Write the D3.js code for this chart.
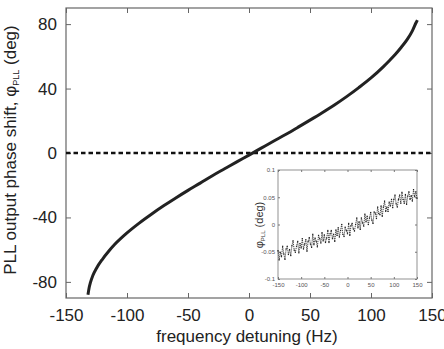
<!DOCTYPE html>
<html>
<head>
<meta charset="utf-8">
<script src="https://cdn.jsdelivr.net/npm/d3@7"></script>
<style>
  body { margin: 0; background: white; }
  svg { display: block; font-family: "Liberation Sans", Arial, sans-serif; }
</style>
</head>
<body>
<main></main>
<script>
// main curve: phase shift (deg) vs detuning (Hz)
const detuning = [-132, -131, -130, -128, -125, -120, -115, -110, -100, -90, -80, -70, -60, -50, -40, -30, -20, -10, 0,
    10, 20, 30, 40, 50, 60, 70, 80, 90, 100, 110, 115, 120, 125, 130, 134, 137, 138]
const phase = [-88, -83.5, -80.5, -76, -71.5, -65.8, -61, -56.7, -49.6, -43.5, -38, -32.8, -27.9, -23.2, -18.7, -14.1, -9.8, -5.5, -1.3,
    3, 7.3, 11.5, 15.9, 20.4, 25, 29.8, 35, 40.6, 46.6, 53.5, 57.3, 61.3, 65.8, 70.8, 76, 81, 82.5]

const xTicks = [-150, -100, -50, 0, 50, 100, 150]
const yTicks = [-80, -40, 0, 40, 80]

// inset: residual phase (deg)
const insetFreq = [-150, -147.5, -145, -142.5, -140, -137.5, -135, -132.5, -130, -127.5, -125, -122.5, -120, -117.5, -115, -112.5,
    -110, -107.5, -105, -102.5, -100, -97.5, -95, -92.5, -90, -87.5, -85, -82.5, -80, -77.5, -75, -72.5, -70, -67.5, -65, -62.5,
    -60, -57.5, -55, -52.5, -50, -47.5, -45, -42.5, -40, -37.5, -35, -32.5, -30, -27.5, -25, -22.5, -20, -17.5, -15, -12.5,
    -10, -7.5, -5, -2.5, 0, 2.5, 5, 7.5, 10, 12.5, 15, 17.5, 20, 22.5, 25, 27.5, 30, 32.5, 35, 37.5, 40, 42.5, 45, 47.5,
    50, 52.5, 55, 57.5, 60, 62.5, 65, 67.5, 70, 72.5, 75, 77.5, 80, 82.5, 85, 87.5, 90, 92.5, 95, 97.5, 100, 102.5, 105, 107.5,
    110, 112.5, 115, 117.5, 120, 122.5, 125, 127.5, 130, 132.5, 135, 137.5, 140, 142.5, 145, 147.5, 150]
const insetPhase = [-0.048, -0.065, -0.051, -0.059, -0.040, -0.054, -0.064, -0.045, -0.040, -0.055, -0.046, -0.057, -0.039, -0.030,
    -0.047, -0.051, -0.040, -0.031, -0.052, -0.035, -0.043, -0.026, -0.045, -0.036, -0.028, -0.049, -0.031, -0.024, -0.036, -0.042,
    -0.018, -0.037, -0.025, -0.031, -0.041, -0.020, -0.026, -0.034, -0.015, -0.030, -0.019, -0.033, -0.025, -0.011, -0.033, -0.017,
    -0.011, -0.026, -0.018, -0.031, -0.010, -0.020, -0.006, -0.023, -0.011, 0.000, -0.018, -0.022, -0.005, -0.011, -0.017, 0.002,
    -0.020, -0.002, 0.002, -0.008, -0.012, 0.000, 0.012, -0.006, 0.005, -0.009, 0.012, 0.003, -0.003, 0.019, 0.005, 0.015, 0.000,
    0.012, 0.022, 0.008, 0.002, 0.023, 0.021, 0.011, 0.032, 0.020, 0.018, 0.034, 0.015, 0.032, 0.043, 0.024, 0.032, 0.024, 0.041,
    0.034, 0.046, 0.031, 0.046, 0.054, 0.038, 0.032, 0.046, 0.054, 0.039, 0.059, 0.046, 0.039, 0.055, 0.037, 0.052, 0.060, 0.046,
    0.053, 0.043, 0.064, 0.051, 0.060, 0.048]
const insetYTicks = [-0.1, -0.05, 0, 0.05, 0.1]

const svgWidth = 444
const svgHeight = 349

const plotLeft = 66, plotRight = 432, plotTop = 8, plotBottom = 298

let svg = d3.select("main")
    .append("svg")
    .attr("width", svgWidth)
    .attr("height", svgHeight)

let xScale = d3.scaleLinear().domain([-150, 150]).range([plotLeft, plotRight])
let yScale = d3.scaleLinear().domain([-90, 90]).range([plotBottom, plotTop])

const frameColor = "#666"
const plain = (d) => String(d)   // plain hyphen minus like the original

//ticks pointing inward on all four sides
function styleAxis(g, color) {
    g.select(".domain").remove()
    g.selectAll("line").attr("stroke", color)
}

svg.append("g")
    .attr("transform", `translate(0, ${plotBottom})`)
    .call(d3.axisBottom(xScale).tickValues(xTicks).tickSize(-5).tickPadding(11).tickFormat(plain))
    .call(g => styleAxis(g, frameColor))
    .call(g => g.selectAll("text").attr("fill", "#222").style("font-size", "17px").attr("font-family", null))

svg.append("g")
    .attr("transform", `translate(0, ${plotTop})`)
    .call(d3.axisTop(xScale).tickValues(xTicks).tickSize(-5).tickFormat(""))
    .call(g => styleAxis(g, frameColor))

svg.append("g")
    .attr("transform", `translate(${plotLeft}, 0)`)
    .call(d3.axisLeft(yScale).tickValues(yTicks).tickSize(-5).tickPadding(9).tickFormat(plain))
    .call(g => styleAxis(g, frameColor))
    .call(g => g.selectAll("text").attr("fill", "#222").style("font-size", "17px").attr("font-family", null))

svg.append("g")
    .attr("transform", `translate(${plotRight}, 0)`)
    .call(d3.axisRight(yScale).tickValues(yTicks).tickSize(-5).tickFormat(""))
    .call(g => styleAxis(g, frameColor))

svg.append("rect")
    .attr("x", plotLeft).attr("y", plotTop)
    .attr("width", plotRight - plotLeft).attr("height", plotBottom - plotTop)
    .attr("fill", "none").attr("stroke", frameColor).attr("stroke-width", 1.2)

//zero line
svg.append("line")
    .attr("x1", xScale(-150)).attr("x2", xScale(150))
    .attr("y1", yScale(0)).attr("y2", yScale(0))
    .attr("stroke", "#111").attr("stroke-width", 2.5)
    .attr("stroke-dasharray", "4.5,3")

let line = d3.line()
    .x((d, i) => xScale(detuning[i]))
    .y((d) => yScale(d))
    .curve(d3.curveMonotoneX)

svg.append("path")
    .datum(phase)
    .attr("d", line)
    .attr("fill", "none")
    .attr("stroke", "#222")
    .attr("stroke-width", 3)

//axis titles
svg.append("text")
    .attr("x", 247).attr("y", 342)
    .attr("text-anchor", "middle")
    .attr("fill", "#222")
    .style("font-size", "17px")
    .text("frequency detuning (Hz)")

let yTitle = svg.append("text")
    .attr("transform", "translate(16, 150) rotate(-90)")
    .attr("text-anchor", "middle")
    .attr("fill", "#222")
    .style("font-size", "17px")
yTitle.append("tspan").text("PLL output phase shift, φ")
yTitle.append("tspan").attr("dy", 3).style("font-size", "9px").text("PLL")
yTitle.append("tspan").attr("dy", -3).text(" (deg)")

//inset
const iL = 278, iR = 417, iT = 170, iB = 279
let ixScale = d3.scaleLinear().domain([-150, 150]).range([iL, iR])
let iyScale = d3.scaleLinear().domain([-0.1, 0.1]).range([iB, iT])
const insetColor = "#777"

svg.append("rect")
    .attr("x", iL).attr("y", iT)
    .attr("width", iR - iL).attr("height", iB - iT)
    .attr("fill", "white").attr("stroke", insetColor).attr("stroke-width", 0.8)

svg.append("g")
    .attr("transform", `translate(0, ${iB})`)
    .call(d3.axisBottom(ixScale).tickValues(xTicks).tickSize(-2).tickPadding(4).tickFormat(plain))
    .call(g => styleAxis(g, insetColor))
    .call(g => g.selectAll("text").attr("fill", "#555").style("font-size", "6px").attr("font-family", null))

svg.append("g")
    .attr("transform", `translate(0, ${iT})`)
    .call(d3.axisTop(ixScale).tickValues(xTicks).tickSize(-2).tickFormat(""))
    .call(g => styleAxis(g, insetColor))

svg.append("g")
    .attr("transform", `translate(${iL}, 0)`)
    .call(d3.axisLeft(iyScale).tickValues(insetYTicks).tickSize(-2).tickPadding(3).tickFormat(plain))
    .call(g => styleAxis(g, insetColor))
    .call(g => g.selectAll("text").attr("fill", "#555").style("font-size", "6px").attr("font-family", null))

svg.append("g")
    .attr("transform", `translate(${iR}, 0)`)
    .call(d3.axisRight(iyScale).tickValues(insetYTicks).tickSize(-2).tickFormat(""))
    .call(g => styleAxis(g, insetColor))

let insetLine = d3.line()
    .x((d, i) => ixScale(insetFreq[i]))
    .y((d) => iyScale(d))

svg.append("path")
    .datum(insetPhase)
    .attr("d", insetLine)
    .attr("fill", "none")
    .attr("stroke", "#333")
    .attr("stroke-width", 0.9)
    .attr("stroke-dasharray", "1.2,0.8")

svg.append("g")
    .selectAll("rect")
    .data(insetPhase)
    .enter()
    .append("rect")
    .attr("x", (d, i) => ixScale(insetFreq[i]) - 0.6)
    .attr("y", (d) => iyScale(d) - 0.6)
    .attr("width", 1.2)
    .attr("height", 1.2)
    .attr("fill", "#222")

let iTitle = svg.append("text")
    .attr("transform", "translate(263, 225) rotate(-90)")
    .attr("text-anchor", "middle")
    .attr("fill", "#333")
    .style("font-size", "11px")
iTitle.append("tspan").text("φ")
iTitle.append("tspan").attr("dy", 2).style("font-size", "6px").text("PLL")
iTitle.append("tspan").attr("dy", -2).text(" (deg)")
</script>
</body>
</html>
